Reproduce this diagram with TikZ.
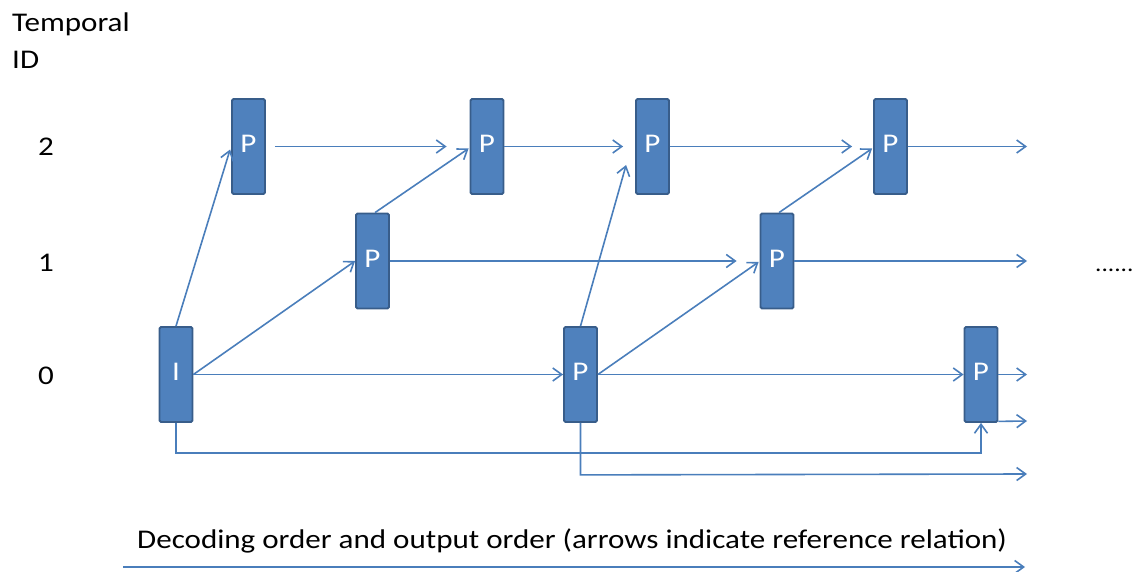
\documentclass[tikz,border=0pt]{standalone}
\usepackage{fontspec}
\setmainfont{Carlito}[FakeStretch=1.15]
\usetikzlibrary{arrows.meta,calc}
\definecolor{lineblue}{RGB}{74,126,187}
\definecolor{boxfill}{RGB}{79,129,189}
\definecolor{boxdraw}{RGB}{56,93,138}
\begin{document}
\begin{tikzpicture}[x=1pt,y=-1pt,
  pic/.style={draw=boxdraw,fill=boxfill,line width=1.8pt,rectangle,rounded corners=1.5pt,
    minimum width=33pt,minimum height=95pt,inner sep=0pt,text=white,text depth=5pt,
    font=\fontsize{27}{32}\selectfont},
  lbl/.style={inner sep=0pt,anchor=base west,font=\fontsize{27}{32}\selectfont},
  ref/.style={draw=lineblue,line width=1.6pt,-{Straight Barb[length=9pt,width=13pt,line width=1.6pt]}},
  conn/.style={draw=lineblue,line width=1.6pt}]
\useasboundingbox (0,0) rectangle (1138,572);
% labels
\node[lbl] (t1) at (12,32) {Temporal};
\node[lbl] (t2) at (12,69) {ID};
\node[lbl,anchor=base] (l2) at (46,156) {2};
\node[lbl,anchor=base] (l1) at (46,272) {1};
\node[lbl,anchor=base] (l0) at (46,384) {0};
\node[lbl,font=\fontsize{22}{26}\selectfont] (dots) at (1095,272) {......};
\node[lbl] (cap) at (137,548) {Decoding order and output order (arrows indicate reference relation)};
% pictures
\node[pic] (I0)  at (176,374.5) {I};
\node[pic] (P2a) at (248.5,146.5) {P};
\node[pic] (P1a) at (372.5,261) {P};
\node[pic] (P2b) at (487,146.5) {P};
\node[pic] (P0b) at (580.5,374.5) {P};
\node[pic] (P2c) at (652.5,146.5) {P};
\node[pic] (P1b) at (777,261) {P};
\node[pic] (P2d) at (890.5,146.5) {P};
\node[pic] (P0c) at (981,374.5) {P};
% free ends
\coordinate (e2) at (1027,146.5);
\coordinate (e1) at (1027,261);
\coordinate (e0) at (1027,374.5);
\coordinate (e0s) at (1027,421);
\coordinate (e0b) at (1027,474);
\coordinate (a0) at (123,567);
\coordinate (a1) at (1025,567);
% connectors
\draw[ref] (I0.north) -- ([xshift=-1pt,yshift=-3pt]P2a.west);
\draw[ref] (I0.east) -- (P1a.west);
\draw[ref] (I0.east) -- (P0b.west);
\draw[ref] (I0.south) -- ++(0,30) -| (P0c.south);
\draw[ref] ([xshift=9pt]P2a.east) -- ([xshift=-23pt]P2b.west);
\draw[ref] ([xshift=2.5pt]P1a.north) -- ([xshift=-1pt,yshift=-2pt]P2b.west);
\draw[ref] (P1a.east) -- ([xshift=-23pt]P1b.west);
\draw[ref] (P2b.east) -- ([xshift=-12pt]P2c.west);
\draw[ref] (P0b.north) -- ([xshift=-9pt,yshift=-18.5pt]P2c.west);
\draw[ref] (P0b.east) -- ([xshift=-1pt,yshift=-1pt]P1b.west);
\draw[ref] (P0b.east) -- (P0c.west);
\draw[ref] (P0b.south) -- ++(0,52) -- (e0b);
\draw[ref] (P2c.east) -- ([xshift=-21pt]P2d.west);
\draw[ref] ([xshift=2pt]P1b.north) -- ([xshift=-1pt,yshift=-2pt]P2d.west);
\draw[ref] (P2d.east) -- (e2);
\draw[ref] (P1b.east) -- (e1);
\draw[ref] (P0c.east) -- (e0);
\draw[ref] ([yshift=1.5pt]P0c.south east) -- (e0s);
\draw[ref] (a0) -- (a1);
\end{tikzpicture}
\end{document}
